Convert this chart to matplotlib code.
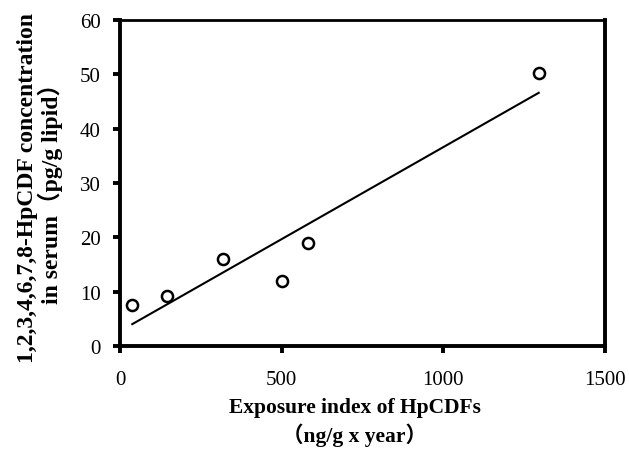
import numpy as np
import matplotlib
matplotlib.use("Agg")
import matplotlib.pyplot as plt

exposure = [38, 145, 320, 500, 580, 1295]
serum = [7.5, 9.2, 16.0, 12.0, 19.0, 50.2]
xticks = [0, 500, 1000, 1500]
yticks = [0, 10, 20, 30, 40, 50, 60]

fam = ['Liberation Serif', 'Noto Sans CJK JP']
plt.rcParams['font.family'] = fam

W, H = 629, 456
fig = plt.figure(figsize=(W / 100, H / 100), dpi=100)
ax = fig.add_axes([120 / W, 1 - 347 / H, 485 / W, 326 / H])

slope, intercept = np.polyfit(exposure, serum, 1)
xl = np.array([min(exposure), max(exposure)])
ax.plot(xl, slope * xl + intercept, color='black', lw=1.5)
ax.plot(exposure, serum, 'o', ms=8, mfc='white', mec='black', mew=1.8)

ax.set_xlim(0, 1500)
ax.set_ylim(0, 60)
ax.set_xticks(xticks)
ax.set_yticks(yticks)
for k, s in ax.spines.items():
    s.set_linewidth(2.0 if k == 'top' else 2.8)
ax.tick_params(direction='out', length=5, width=2.8, labelsize=15)
ax.tick_params(axis='x', pad=12)
ax.tick_params(axis='y', pad=9)

fig.text(355 / W, 1 - 398 / H, 'Exposure index of HpCDFs\n（ng/g x year）',
         fontsize=15.5, fontweight='bold', ha='center', va='top',
         multialignment='center', linespacing=1.3)
fig.text(40 / W, 1 - 188 / H, '1,2,3,4,6,7,8-HpCDF concentration\nin serum（pg/g lipid）',
         fontsize=17, fontweight='bold', ha='center', va='center', rotation=90,
         multialignment='center', linespacing=1.0)

fig.savefig('out.png', dpi=100)
